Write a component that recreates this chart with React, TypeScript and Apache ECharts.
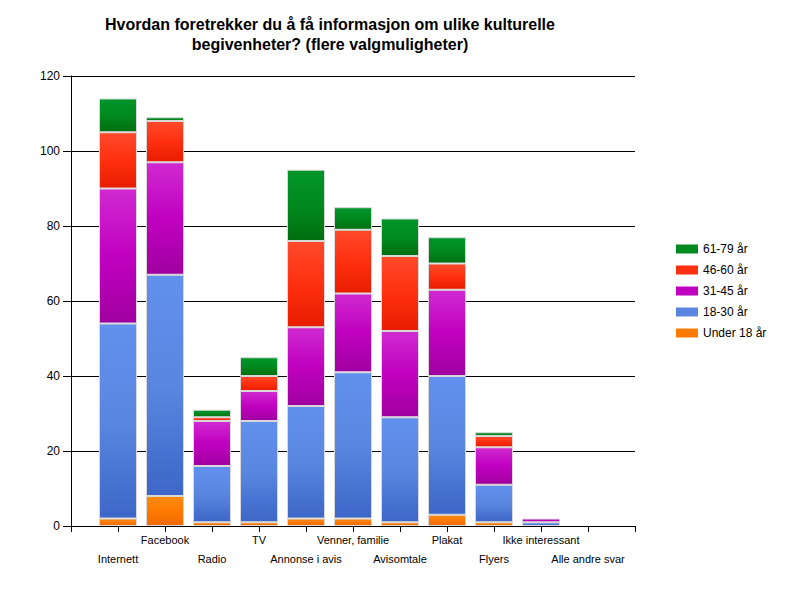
import React, { useEffect, useRef } from "react";
import * as echarts from "echarts";

const categories = [
  "Internett",
  "Facebook",
  "Radio",
  "TV",
  "Annonse i avis",
  "Venner, familie",
  "Avisomtale",
  "Plakat",
  "Flyers",
  "Ikke interessant",
  "Alle andre svar",
];

const seriesNames = ["Under 18 år", "18-30 år", "31-45 år", "46-60 år", "61-79 år"];

const under18 = [2, 8, 1, 1, 2, 2, 1, 3, 1, 0, 0];
const age18to30 = [52, 59, 15, 27, 30, 39, 28, 37, 10, 1, 0];
const age31to45 = [36, 30, 12, 8, 21, 21, 23, 23, 10, 1, 0];
const age46to60 = [15, 11, 1, 4, 23, 17, 20, 7, 3, 0, 0];
const age61to79 = [9, 1, 2, 5, 19, 6, 10, 7, 1, 0, 0];

const yTicks = { min: 0, max: 120, interval: 20 };

const FONT = "'Liberation Sans', Arial, sans-serif";

const palette = [
  { flat: "#ff7a00", top: "#ff8a10", bottom: "#f06800" },
  { flat: "#5a86e0", top: "#6290ee", bottom: "#3d66c8" },
  { flat: "#c000c0", top: "#d02ad0", bottom: "#a000a0" },
  { flat: "#ff3010", top: "#ff4a2a", bottom: "#e81c00" },
  { flat: "#008a20", top: "#00952a", bottom: "#006e10" },
];

export default function App() {
  const ref = useRef<HTMLDivElement>(null);

  useEffect(() => {
    document.body.style.margin = "0";
    if (!ref.current) return;
    const chart = echarts.init(ref.current, undefined, { renderer: "svg" });

    const axisData = ["", ...categories, ""];
    const values = [under18, age18to30, age31to45, age46to60, age61to79];

    const series = values.map((arr, i) => ({
      name: seriesNames[i],
      type: "bar",
      stack: "total",
      barWidth: 38,
      data: ["-", ...arr.map((v) => (v === 0 ? "-" : v)), "-"],
      itemStyle: {
        color: new echarts.graphic.LinearGradient(0, 0, 0, 1, [
          { offset: 0, color: palette[i].top },
          { offset: 0.5, color: palette[i].flat },
          { offset: 1, color: palette[i].bottom },
        ]),
        borderColor: "#d8d8d8",
        borderWidth: 1,
      },
    }));

    const legendOrder = [...seriesNames].map((n, i) => ({ n, i })).reverse();

    chart.setOption({
      animation: false,
      backgroundColor: "#ffffff",
      textStyle: { fontFamily: FONT },
      graphic: [
        {
          type: "text",
          x: 330,
          y: 14,
          style: {
            text: "Hvordan foretrekker du å få informasjon om ulike kulturelle\nbegivenheter? (flere valgmuligheter)",
            font: `bold 16px ${FONT}`,
            fill: "#000",
            textAlign: "center",
            lineHeight: 20,
          },
        },
      ],
      legend: {
        orient: "vertical",
        left: 671,
        top: 237,
        itemWidth: 22,
        itemHeight: 9,
        itemGap: 7,
        icon: "rect",
        textStyle: { fontSize: 12, color: "#000", fontFamily: FONT, lineHeight: 14 },
        data: legendOrder.map(({ n, i }) => ({
          name: n,
          itemStyle: { color: palette[i].flat, borderWidth: 0 },
        })),
      },
      grid: { left: 71, top: 76, right: 154, bottom: 64, containLabel: false },
      xAxis: {
        type: "category",
        data: axisData,
        boundaryGap: false,
        axisLine: { lineStyle: { color: "#000", width: 1 } },
        axisTick: { length: 6, lineStyle: { color: "#000" }, interval: 0 },
        axisLabel: {
          interval: 0,
          margin: 4,
          fontSize: 11,
          lineHeight: 19,
          color: "#000",
          fontFamily: FONT,
          formatter: (val: string, idx: number) => (idx % 2 === 1 ? "\n" + val : val),
        },
        splitLine: { show: false },
      },
      yAxis: {
        type: "value",
        min: yTicks.min,
        max: yTicks.max,
        interval: yTicks.interval,
        axisLine: { show: true, lineStyle: { color: "#000", width: 1 } },
        axisTick: { show: true, length: 8, lineStyle: { color: "#000" } },
        axisLabel: { fontSize: 12, color: "#000", margin: 11, fontFamily: FONT },
        splitLine: { lineStyle: { color: "#000", width: 1 } },
      },
      series,
    });

    return () => chart.dispose();
  }, []);

  return <div ref={ref} style={{ width: 789, height: 590 }} />;
}
